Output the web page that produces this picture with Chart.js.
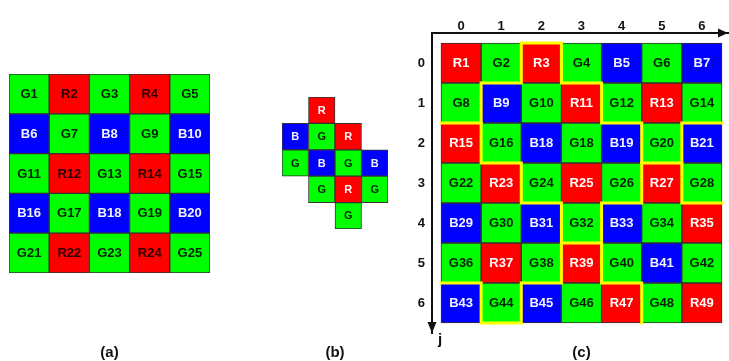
<!DOCTYPE html>
<html>
<head>
<meta charset="utf-8">
<script src="https://cdn.jsdelivr.net/npm/chart.js@4.4.1/dist/chart.umd.min.js"></script>
<style>
  html, body { margin: 0; padding: 0; background: #fff; }
  #wrap { position: relative; width: 729px; height: 361px; overflow: hidden; }
  .panel { position: absolute; top: 0; height: 361px; }
  #pa { left: 0; width: 220px; }
  #pb { left: 270px; width: 130px; }
  #pc { left: 400px; width: 329px; }
</style>
</head>
<body>
<div id="wrap">
  <div class="panel" id="pa"><canvas id="chartA"></canvas></div>
  <div class="panel" id="pb"><canvas id="chartB"></canvas></div>
  <div class="panel" id="pc"><canvas id="chartC"></canvas></div>
</div>
<script>
// cell names, row by row (null = no cell)
const gridA = [
  ['G1', 'R2', 'G3', 'R4', 'G5'],
  ['B6', 'G7', 'B8', 'G9', 'B10'],
  ['G11', 'R12', 'G13', 'R14', 'G15'],
  ['B16', 'G17', 'B18', 'G19', 'B20'],
  ['G21', 'R22', 'G23', 'R24', 'G25']
];
const gridB = [
  [null, 'R', null, null],
  ['B', 'G', 'R', null],
  ['G', 'B', 'G', 'B'],
  [null, 'G', 'R', 'G'],
  [null, null, 'G', null]
];
const gridC = [
  ['R1', 'G2', 'R3', 'G4', 'B5', 'G6', 'B7'],
  ['G8', 'B9', 'G10', 'R11', 'G12', 'R13', 'G14'],
  ['R15', 'G16', 'B18', 'G18', 'B19', 'G20', 'B21'],
  ['G22', 'R23', 'G24', 'R25', 'G26', 'R27', 'G28'],
  ['B29', 'G30', 'B31', 'G32', 'B33', 'G34', 'R35'],
  ['G36', 'R37', 'G38', 'R39', 'G40', 'B41', 'G42'],
  ['B43', 'G44', 'B45', 'G46', 'R47', 'G48', 'R49']
];
const colTicksC = ['0', '1', '2', '3', '4', '5', '6'];
const rowTicksC = ['0', '1', '2', '3', '4', '5', '6'];
// yellow outlines in (c), as [column edge, row edge] points
const outlinesC = [
  [[2,0],[3,0],[3,1],[4,1],[4,2],[5,2],[5,4],[4,4],[4,5],[3,5],[3,4],[2,4],[2,3],[1,3],[1,1],[2,1],[2,0]],
  [[0,2],[1,2]],
  [[0,6],[1,6],[1,7],[2,7],[2,6],[3,6],[3,5]],
  [[4,5],[4,6],[5,6],[5,7]],
  [[7,2],[6,2],[6,4],[7,4]],
  [[5,3],[6,3]]
];
const panelTitles = ['(a)', '(b)', '(c)'];

const fills = { R: '#ff0000', G: '#00ff00', B: '#0000ff' };
const FONT = '"Liberation Sans", Arial, sans-serif';

function toCells(grid) {
  const cells = [];
  grid.forEach((row, r) => row.forEach((name, c) => {
    if (name) cells.push({ x: c + 0.5, y: [r, r + 1], name: name });
  }));
  return cells;
}

const cellText = {
  id: 'cellText',
  afterDatasetsDraw(chart, args, opts) {
    const ctx = chart.ctx;
    const meta = chart.getDatasetMeta(0);
    const data = chart.data.datasets[0].data;
    ctx.save();
    ctx.font = 'bold ' + opts.size + 'px ' + FONT;
    ctx.textAlign = 'center';
    ctx.textBaseline = 'middle';
    meta.data.forEach((el, i) => {
      const name = data[i].name;
      ctx.fillStyle = opts.colors[name[0]];
      ctx.fillText(name, el.x, (el.y + el.base) / 2 + 0.5);
    });
    ctx.restore();
  }
};

const panelLabel = {
  id: 'panelLabel',
  afterDraw(chart, args, opts) {
    const xs = chart.scales.x;
    const ctx = chart.ctx;
    const cx = (xs.getPixelForValue(0) + xs.getPixelForValue(opts.cols)) / 2;
    ctx.save();
    ctx.font = 'bold 15px ' + FONT;
    ctx.fillStyle = '#111';
    ctx.textAlign = 'center';
    ctx.textBaseline = 'middle';
    ctx.fillText(opts.text, cx, chart.height - 8.5);
    ctx.restore();
  }
};

const axisArrows = {
  id: 'axisArrows',
  afterDraw(chart) {
    const a = chart.chartArea;
    const ctx = chart.ctx;
    ctx.save();
    ctx.fillStyle = '#111';
    ctx.beginPath();
    ctx.moveTo(a.right, a.top);
    ctx.lineTo(a.right - 10, a.top - 4.5);
    ctx.lineTo(a.right - 10, a.top + 4.5);
    ctx.closePath();
    ctx.fill();
    ctx.beginPath();
    ctx.moveTo(a.left, a.bottom);
    ctx.lineTo(a.left - 4.5, a.bottom - 11);
    ctx.lineTo(a.left + 4.5, a.bottom - 11);
    ctx.closePath();
    ctx.fill();
    ctx.font = 'bold 15px ' + FONT;
    ctx.textAlign = 'center';
    ctx.textBaseline = 'middle';
    ctx.fillText('j', a.left + 8, a.bottom + 7);
    ctx.restore();
  }
};

function centers(n) {
  const out = [];
  for (let i = 0; i < n; i++) out.push({ value: i + 0.5 });
  return out;
}

function makeGrid(id, grid, cfg) {
  const nRows = grid.length;
  const nCols = grid[0].length;
  const datasets = [{
    type: 'bar',
    data: toCells(grid),
    order: 10,
    backgroundColor: (ctx) => ctx.raw ? fills[ctx.raw.name[0]] : '#000',
    borderColor: '#333',
    borderWidth: 1,
    borderSkipped: false,
    barPercentage: 1,
    categoryPercentage: 1
  }];
  (cfg.outlines || []).forEach((path) => datasets.push({
    type: 'line',
    data: path.map((p) => ({ x: p[0], y: p[1] })),
    borderColor: '#ffff00',
    borderWidth: 3,
    borderJoinStyle: 'miter',
    borderCapStyle: 'square',
    pointRadius: 0,
    fill: false,
    order: 0
  }));

  const scales = cfg.scales || {
    x: { type: 'linear', min: 0, max: nCols, display: false, offset: false,
         afterBuildTicks: (s) => { s.ticks = centers(nCols); } },
    y: { type: 'linear', min: 0, max: nRows, reverse: true, display: false }
  };

  return new Chart(document.getElementById(id), {
    type: 'bar',
    data: { datasets: datasets },
    options: {
      animation: false,
      responsive: true,
      maintainAspectRatio: false,
      events: [],
      layout: { padding: cfg.padding },
      scales: scales,
      plugins: {
        legend: { display: false },
        tooltip: { enabled: false },
        title: { display: false },
        cellText: { size: cfg.textSize, colors: cfg.textColors },
        panelLabel: { text: cfg.title, cols: nCols }
      }
    },
    plugins: [cellText, panelLabel].concat(cfg.extra || [])
  });
}

makeGrid('chartA', gridA, {
  padding: { left: 9, right: 10, top: 74, bottom: 88 },
  textSize: 13,
  textColors: { R: '#2a0000', G: '#062006', B: '#f2f2ff' },
  title: panelTitles[0]
});

makeGrid('chartB', gridB, {
  padding: { left: 12, right: 12, top: 97, bottom: 132 },
  textSize: 11,
  textColors: { R: '#ffffff', G: '#062006', B: '#f2f2ff' },
  title: panelTitles[1]
});

const tickFont = { family: FONT, size: 13, weight: 'bold' };
makeGrid('chartC', gridC, {
  padding: { left: 0, right: 1, top: 0, bottom: 28 },
  textSize: 13,
  textColors: { R: '#ffffff', G: '#062006', B: '#f2f2ff' },
  title: panelTitles[2],
  outlines: outlinesC,
  extra: [axisArrows],
  scales: {
    x: {
      type: 'linear', position: 'top', min: -0.224, max: 7.15, offset: false,
      grid: { display: false },
      border: { display: true, color: '#111', width: 2 },
      afterBuildTicks: (s) => { s.ticks = centers(colTicksC.length); },
      afterFit: (s) => { s.height = 33; },
      ticks: { autoSkip: false, maxRotation: 0, padding: -9, color: '#111', font: tickFont,
               callback: (v) => colTicksC[Math.round(v - 0.5)] }
    },
    y: {
      type: 'linear', position: 'left', min: -0.25, max: 7.25, reverse: true,
      grid: { display: false },
      border: { display: true, color: '#111', width: 2 },
      afterBuildTicks: (s) => { s.ticks = centers(rowTicksC.length); },
      afterFit: (s) => { s.width = 32; },
      ticks: { autoSkip: false, padding: -1, color: '#111', font: tickFont,
               callback: (v) => rowTicksC[Math.round(v - 0.5)] }
    }
  }
});
</script>
</body>
</html>
